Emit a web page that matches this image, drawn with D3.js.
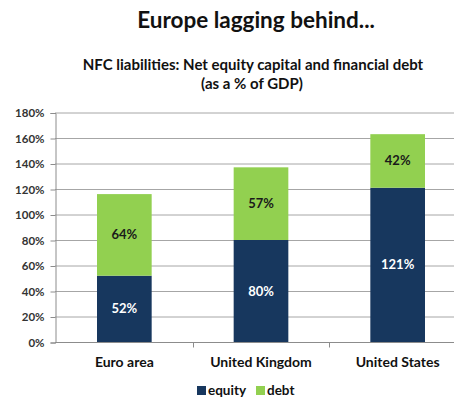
<!DOCTYPE html>
<html><head><meta charset="utf-8">
<script src="https://cdn.jsdelivr.net/npm/d3@7"></script>
<style>body{margin:0;background:#fff;} svg{display:block;font-family:Lato,"Open Sans",sans-serif;}</style>
</head><body>
<script>
const categories = ["Euro area", "United Kingdom", "United States"];
const equity = [52, 80, 121];
const debt = [64, 57, 42];
const yTicks = [0, 20, 40, 60, 80, 100, 120, 140, 160, 180];
const seriesNames = ["equity", "debt"];
const colors = {equity: "#17375e", debt: "#92d050"};

const W = 454, H = 400;
const svg = d3.select("body").append("svg").attr("width", W).attr("height", H);

const x = d3.scaleBand().domain(categories).range([56, 466]).paddingInner(0.6).paddingOuter(0.3);
const y = d3.scaleLinear().domain([0, 180]).range([342, 112.5]);

// title
svg.append("text").attr("x", 256).attr("y", 28).attr("text-anchor", "middle")
  .attr("font-size", 22.5).attr("font-weight", "bold").attr("fill", "#111").text("Europe lagging behind...");
svg.append("text").attr("x", 253).attr("y", 69.5).attr("text-anchor", "middle")
  .attr("font-size", 15).attr("font-weight", "bold").attr("fill", "#111").text("NFC liabilities: Net equity capital and financial debt");
svg.append("text").attr("x", 252).attr("y", 88.5).attr("text-anchor", "middle")
  .attr("font-size", 15).attr("font-weight", "bold").attr("fill", "#111").text("(as a % of GDP)");

// gridlines
svg.append("g").selectAll("line").data(yTicks.filter(d => d > 0)).join("line")
  .attr("x1", 55).attr("x2", W).attr("y1", d => y(d) + 0.5).attr("y2", d => y(d) + 0.5)
  .attr("stroke", "#a6a6a6").attr("stroke-width", 1);

// y axis
const yAxis = d3.axisLeft(y).tickValues(yTicks).tickFormat(d => d + "%").tickSize(5).tickPadding(6);
const gy = svg.append("g").attr("transform", "translate(55.5,0.5)").call(yAxis);
gy.select(".domain").attr("stroke", "#8c8c8c");
gy.selectAll(".tick line").attr("stroke", "#8c8c8c");
gy.selectAll("text").attr("font-size", 11.5).attr("font-weight", "bold").attr("fill", "#333").attr("font-family", "Lato,sans-serif");

// stacked bars
const stackData = categories.map((c, i) => ({cat: c, equity: equity[i], debt: debt[i]}));
const stacked = d3.stack().keys(seriesNames)(stackData);
const gBars = svg.append("g");
stacked.forEach(s => {
  gBars.append("g").selectAll("rect").data(s).join("rect")
    .attr("x", d => x(d.data.cat)).attr("width", x.bandwidth())
    .attr("y", d => y(d[1])).attr("height", d => y(d[0]) - y(d[1]))
    .attr("fill", colors[s.key]);
  gBars.append("g").selectAll("text").data(s).join("text")
    .attr("x", d => x(d.data.cat) + x.bandwidth() / 2)
    .attr("y", d => (y(d[0]) + y(d[1])) / 2 + 4.5)
    .attr("text-anchor", "middle").attr("font-size", 13).attr("font-weight", "bold")
    .attr("fill", s.key === "equity" ? "#fff" : "#1a1a1a")
    .text(d => (d[1] - d[0]) + "%");
});

// x axis
const gx = svg.append("g").attr("transform", "translate(0,342.5)");
gx.append("line").attr("x1", 55).attr("x2", W).attr("stroke", "#8c8c8c");
const step = x.step();
gx.selectAll(".sep").data(categories.slice(1)).join("line")
  .attr("x1", d => Math.round(x(d) - x.paddingInner() * step / 2) + 0.5)
  .attr("x2", d => Math.round(x(d) - x.paddingInner() * step / 2) + 0.5)
  .attr("y1", 0).attr("y2", 5).attr("stroke", "#8c8c8c");
gx.selectAll(".lbl").data(categories).join("text")
  .attr("x", d => x(d) + x.bandwidth() / 2).attr("y", 24).attr("text-anchor", "middle")
  .attr("font-size", 14).attr("font-weight", "bold").attr("fill", "#111").text(d => d);

// legend
const leg = svg.append("g");
const legItems = [{k: "equity", x: 197}, {k: "debt", x: 256}];
legItems.forEach(it => {
  leg.append("rect").attr("x", it.x).attr("y", 386).attr("width", 9).attr("height", 9).attr("fill", colors[it.k]);
  leg.append("text").attr("x", it.x + 11).attr("y", 395).attr("font-size", 13.5).attr("font-weight", "bold")
    .attr("fill", "#111").text(it.k);
});
</script>
</body></html>
